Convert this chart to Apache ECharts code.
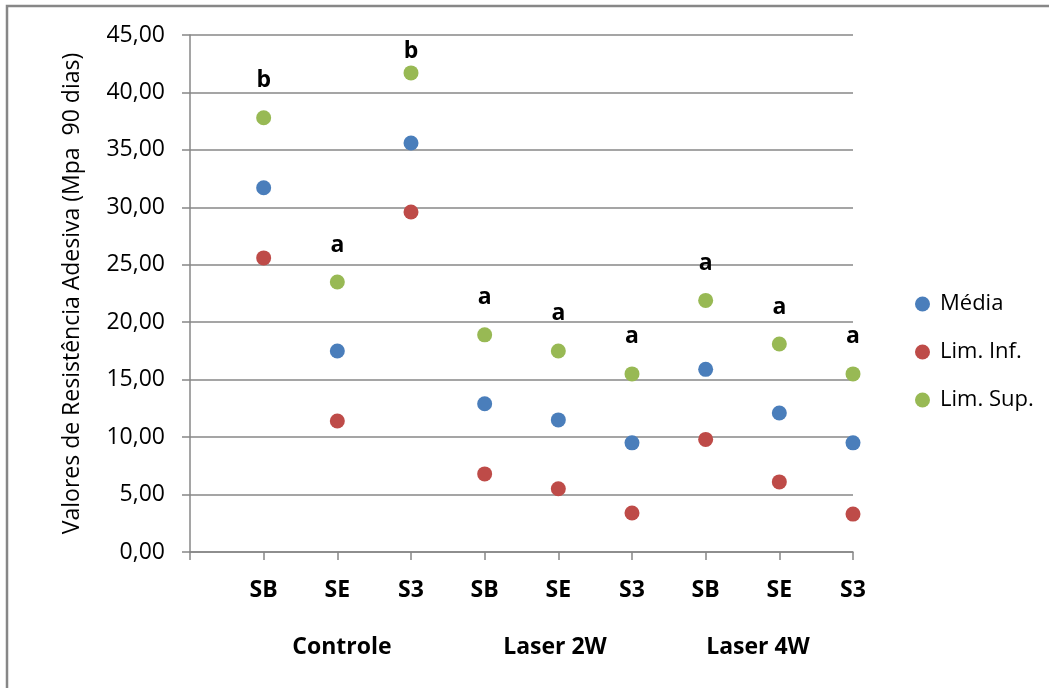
<!DOCTYPE html>
<html>
<head>
<meta charset="utf-8">
<script src="https://cdn.jsdelivr.net/npm/echarts@6/dist/echarts.min.js"></script>
<style>
  html, body { margin: 0; padding: 0; background: #fff; }
  #chart { width: 1049px; height: 688px; }
</style>
</head>
<body>
<div id="chart"></div>
<script>
// categories (first slot is empty, like the original sheet)
const categories = ['', 'SB', 'SE', 'S3', 'SB', 'SE', 'S3', 'SB', 'SE', 'S3']
const groups = ['Controle', 'Laser 2W', 'Laser 4W']
const media = [null, 31.7, 17.5, 35.6, 12.9, 11.5, 9.5, 15.9, 12.1, 9.5]
const limInf = [null, 25.6, 11.4, 29.6, 6.8, 5.5, 3.4, 9.8, 6.1, 3.3]
const limSup = [null, 37.8, 23.5, 41.7, 18.9, 17.5, 15.5, 21.9, 18.1, 15.5]
const letters = ['', 'b', 'a', 'b', 'a', 'a', 'a', 'a', 'a', 'a']

const font = '"Open Sans", Lato, sans-serif'
const grey = '#878787'

const chart = echarts.init(document.getElementById('chart'))

const fmt = v => v.toFixed(2).replace('.', ',')

chart.setOption({
  animation: false,
  textStyle: { fontFamily: font },
  grid: { left: 190, right: 196, top: 35, bottom: 136 },
  legend: {
    orient: 'vertical',
    left: 910,
    top: 288,
    icon: 'circle',
    itemWidth: 15,
    itemHeight: 15,
    itemGap: 26,
    textStyle: { fontSize: 22, color: '#000', fontFamily: font, padding: [0, 0, 0, 5] },
    data: ['Média', 'Lim. Inf.', 'Lim. Sup.']
  },
  xAxis: {
    type: 'category',
    data: categories,
    boundaryGap: false,
    axisLine: { lineStyle: { color: grey, width: 1.5 } },
    axisTick: { show: true, length: 8, inside: false, lineStyle: { color: grey, width: 1.5 } },
    axisLabel: {
      margin: 27,
      fontSize: 23,
      fontWeight: 'bold',
      color: '#000',
      interval: 0
    },
    splitLine: { show: false }
  },
  yAxis: {
    type: 'value',
    min: 0,
    max: 45,
    interval: 5,
    name: 'Valores de Resistência Adesiva (Mpa  90 dias)',
    nameLocation: 'middle',
    nameGap: 106,
    nameTextStyle: { fontSize: 23, color: '#000', fontFamily: font },
    axisLine: { show: true, lineStyle: { color: grey, width: 1.5 } },
    axisTick: { show: true, length: 8, lineStyle: { color: grey, width: 1.5 } },
    axisLabel: {
      margin: 25,
      fontSize: 23,
      color: '#000',
      formatter: fmt
    },
    splitLine: { show: true, lineStyle: { color: grey, width: 1.5 } }
  },
  series: [
    {
      name: 'Média',
      type: 'scatter',
      symbolSize: 15,
      itemStyle: { color: '#4A7EBB', opacity: 1 },
      data: media
    },
    {
      name: 'Lim. Inf.',
      type: 'scatter',
      symbolSize: 15,
      itemStyle: { color: '#BE4B48', opacity: 1 },
      data: limInf
    },
    {
      name: 'Lim. Sup.',
      type: 'scatter',
      symbolSize: 15,
      itemStyle: { color: '#98B954', opacity: 1 },
      label: {
        show: true,
        position: 'top',
        distance: 18,
        fontSize: 23,
        fontWeight: 'bold',
        color: '#000',
        formatter: p => letters[p.dataIndex]
      },
      // keep letters inside the plot area, as the spreadsheet does
      labelLayout: p => {
        const r = p.labelRect
        if (r.y < 40) {
          return { x: r.x + r.width / 2, y: 40 + r.height, align: 'center', verticalAlign: 'bottom' }
        }
        return {}
      },
      data: limSup
    }
  ]
})

// group captions under the category labels, plus the sheet frame
const groupX = [342, 555, 758]
chart.setOption({
  graphic: [
    {
      type: 'rect',
      shape: { x: 7, y: 6, width: 1200, height: 1000 },
      style: { fill: 'none', stroke: grey, lineWidth: 2.5 },
      silent: true
    }
  ].concat(groups.map((g, i) => ({
    type: 'text',
    x: groupX[i],
    y: 647,
    style: {
      text: g,
      font: 'bold 23px ' + font,
      fill: '#000',
      textAlign: 'center',
      textVerticalAlign: 'middle'
    }
  })))
})
</script>
</body>
</html>
